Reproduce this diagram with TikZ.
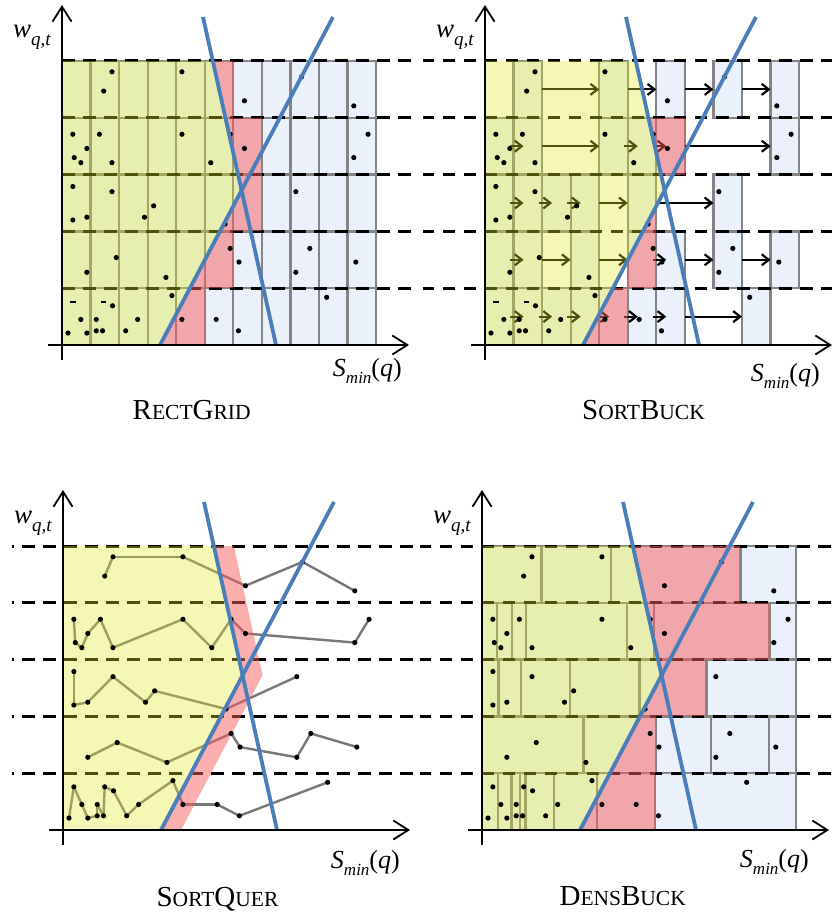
\documentclass[tikz,border=0pt]{standalone}
\usepackage{fontspec}
\setmainfont{Liberation Serif}
\usetikzlibrary{arrows.meta, calc}

\definecolor{cellblue}{RGB}{234,241,250}
\definecolor{cellgray}{RGB}{132,132,132}
\definecolor{veilyel}{RGB}{225,235,40}
\definecolor{veilred}{RGB}{246,93,92}
\definecolor{cutblue}{RGB}{74,126,187}
\definecolor{trailgray}{RGB}{120,120,120}

\newcommand{\smc}[1]{{\fontsize{21.5}{24}\selectfont #1}}
% points of the five rows (top to bottom), sorted by S_min
\newcommand{\rowA}{1.46/4.47, 1.75/4.81, 4.20/4.81, 6.39/4.30, 8.39/4.72, 10.22/4.21}
\newcommand{\rowB}{0.38/3.71, 0.43/3.30, 0.66/3.21, 0.87/3.46, 1.31/3.71, 1.75/3.21, 4.20/3.71, 5.21/3.21, 5.89/3.71, 6.39/3.46, 10.22/3.30, 10.72/3.71}
\newcommand{\rowC}{0.38/2.79, 0.38/2.20, 0.87/2.25, 1.75/2.70, 2.89/2.25, 3.21/2.45, 5.71/2.13, 8.19/2.70}
\newcommand{\rowD}{0.87/1.28, 1.90/1.54, 3.64/1.19, 5.89/1.70, 6.20/1.46, 8.19/1.28, 8.68/1.70, 10.29/1.46}
\newcommand{\rowE}{0.21/0.21, 0.38/0.76, 0.66/0.45, 0.87/0.21, 1.20/0.25, 1.20/0.45, 1.42/0.25, 1.46/0.76, 1.77/0.69, 2.23/0.25, 2.65/0.45, 3.85/0.87, 4.20/0.45, 5.40/0.45, 6.18/0.25, 9.27/0.84}
\newcommand{\rowEdots}{0.21/0.21, 0.66/0.45, 0.87/0.21, 1.20/0.25, 1.20/0.45, 1.42/0.25, 1.77/0.69, 2.23/0.25, 2.65/0.45, 3.85/0.87, 4.20/0.45, 5.40/0.45, 6.18/0.25, 9.27/0.84}
\newcommand{\rowEdash}{0.38/0.76, 1.46/0.76}

\tikzset{
  cell/.style     ={fill=cellblue, draw=cellgray, line width=2.3pt},
  rowsep/.style   ={line width=3pt, dash pattern=on 12.5pt off 8.5pt},
  hop/.style      ={-{Straight Barb[length=7pt,width=11pt]}, line width=2.2pt},
  trail/.style    ={draw=trailgray, line width=2.4pt, line cap=round},
  yelveil/.style  ={fill=veilyel, fill opacity=0.35},
  redveil/.style  ={fill=veilred, fill opacity=0.5},
  cutline/.style  ={draw=cutblue, line width=3.8pt},
  axisarrow/.style={-{Straight Barb[length=15pt,width=19pt]}, line width=1.8pt},
  capt/.style     ={font=\fontsize{29}{32}\selectfont, anchor=base, inner sep=0pt},
  lbl/.style      ={inner sep=0pt},
}

\newcommand{\cutcoords}{%
  \coordinate (At) at (4.939,5.775);
  \coordinate (Ab) at (7.496,0);
  \coordinate (Bb) at (3.433,0);
  \coordinate (Bt) at (9.492,5.775);
  \coordinate (X)  at (intersection of At--Ab and Bb--Bt);
  \coordinate (Ac) at (intersection of At--Ab and 0,5--1,5);
}
\newcommand{\cuts}{\draw[cutline] (At) -- (Ab); \draw[cutline] (Bb) -- (Bt);}
\newcommand{\rowlines}[2]{\foreach \r in {1,...,5} \draw[rowsep, dash phase=#2] (#1,\r) -- (12.3,\r);}
\newcommand{\putdots}[1]{\foreach \x/\y in #1 {\fill (\x,\y) circle (2.6pt);}}
\newcommand{\putdash}[1]{\foreach \x/\y in #1 {\fill ([xshift=-2.8pt,yshift=-1pt]\x,\y) rectangle ++(5.6pt,2pt);}}
\newcommand{\trail}[1]{\foreach \x/\y [count=\k, remember=\x as \lx, remember=\y as \ly] in #1 {\ifnum\k>1 \draw[trail] (\lx,\ly) -- (\x,\y);\fi}}
\newcommand{\panelaxes}[5]{%
  \draw[axisarrow] (0pt,-15pt) -- (0pt,340pt);
  \draw[axisarrow] (-14pt,0pt) -- (347pt,0pt);
  \node[lbl, anchor=base west] (wlbl) at (-49pt,307pt)
    {\fontsize{27}{30}\selectfont\itshape w\raisebox{-8pt}{\fontsize{19}{20}\selectfont q,t}};
  \node[lbl, anchor=base east] (slbl) at (#1pt,#2pt)
    {\fontsize{26}{28}\selectfont\itshape S\raisebox{-7pt}{\fontsize{17}{18}\selectfont min}\upshape(\itshape q\upshape)};
  \node[capt] (capt) at (#3pt,#4pt) {#5};
}

\begin{document}
\begin{tikzpicture}[x=1pt, y=1pt]
  \useasboundingbox (0,-915) rectangle (832,0);

  % --- RectGrid ---
  \begin{scope}[shift={(62pt,-345pt)}, x=28.55pt, y=56.8pt]
    \cutcoords
    \foreach \i in {0,...,10} \foreach \j in {0,...,4} \draw[cell] (\i,\j) rectangle ++(1,1);
    \rowlines{0}{0pt}
    \begin{scope}
      \clip (Ac) -- (X) -- (Bb) -- (13,0) -- (13,5) -- cycle;
      \foreach \y/\b in {4/6, 3/7, 2/7, 1/6, 0/5} \fill[redveil] (0,\y) rectangle (\b,\y+1);
    \end{scope}
    \fill[yelveil] (0,0) -- (0,5) -- (Ac) -- (X) -- (Bb) -- cycle;
    \putdots{\rowA}\putdots{\rowB}\putdots{\rowC}\putdots{\rowD}\putdots{\rowEdots}
    \putdash{\rowEdash}
    \cuts
    \panelaxes{340}{-31}{129.7}{-74.3}{R\smc{ECT}G\smc{RID}}
  \end{scope}

  % --- SortBuck ---
  \begin{scope}[shift={(485pt,-345pt)}, x=28.55pt, y=56.8pt]
    \cutcoords
    \foreach \y/\ks in {4/{1,4,6,8,10}, 3/{0,1,4,5,6,10}, 2/{0,1,2,3,5,8}, 1/{0,1,3,5,6,8,10}, 0/{0,1,2,3,4,5,6,9}}
      \foreach \i in \ks \draw[cell] (\i,\y) rectangle ++(1,1);
    % jumps over empty buckets
    \foreach \a/\b/\y in {2/4/4.5, 5/6/4.5, 7/8/4.5, 9/10/4.5, 2/4/3.5, 7/10/3.5, 4/5/2.5, 6/8/2.5,
                          2/3/1.5, 4/5/1.5, 7/8/1.5, 9/10/1.5, 7/9/0.5}
      \draw[hop] (\a,\y) -- (\b,\y);
    % neighbour buckets
    \foreach \b/\y in {1/3.5, 5/3.5, 6/3.5, 1/2.5, 2/2.5, 3/2.5, 1/1.5, 6/1.5,
                       1/0.5, 2/0.5, 3/0.5, 4/0.5, 5/0.5, 6/0.5}
      \draw[hop] (\b-0.12,\y) -- (\b+0.35,\y);
    \rowlines{-2.172}{1pt}
    \begin{scope}
      \clip (Ac) -- (X) -- (Bb) -- (13,0) -- (13,5) -- cycle;
      \foreach \y/\a/\b in {3/5/7, 2/5/6, 1/5/6, 0/3/5} \fill[redveil] (\a,\y) rectangle (\b,\y+1);
    \end{scope}
    \fill[yelveil] (0,0) -- (0,5) -- (Ac) -- (X) -- (Bb) -- cycle;
    \putdots{\rowA}\putdots{\rowB}\putdots{\rowC}\putdots{\rowD}\putdots{\rowEdots}
    \putdash{\rowEdash}
    \cuts
    \panelaxes{335}{-36}{158.5}{-74.3}{S\smc{ORT}B\smc{UCK}}
  \end{scope}

  % --- SortQuer ---
  \begin{scope}[shift={(63pt,-830pt)}, x=28.55pt, y=56.8pt]
    \cutcoords
    \trail{\rowA}\trail{\rowB}\trail{\rowC}\trail{\rowD}\trail{\rowE}
    \rowlines{-1.786}{11pt}
    \fill[redveil] (Ac) -- ($(Ac)+(0.7,0)$) -- ($(X)+(0.7,0)$) -- ($(Bb)+(0.7,0)$) -- (Bb) -- (X) -- cycle;
    \fill[yelveil] (0,0) -- (0,5) -- (Ac) -- (X) -- (Bb) -- cycle;
    \putdots{\rowA}\putdots{\rowB}\putdots{\rowC}\putdots{\rowD}\putdots{\rowE}
    \cuts
    \panelaxes{337}{-38}{154.5}{-76.7}{S\smc{ORT}Q\smc{UER}}
  \end{scope}

  % --- DensBuck ---
  \begin{scope}[shift={(482pt,-830pt)}, x=28.55pt, y=56.8pt]
    \cutcoords
    \foreach \y/\bnd in {4/{2.08,4.53,9.05,11}, 3/{0.52,1.05,1.54,5.08,6.03,10.07,11},
                         2/{0.58,1.36,3.07,5.52,7.86,11}, 1/{3.56,6.10,8.02,10.04,11},
                         0/{0.55,1.03,1.32,1.52,2.51,4.03,6.07,11}}
      \foreach \x [remember=\x as \lx (initially 0)] in \bnd \draw[cell] (\lx,\y) rectangle (\x,\y+1);
    \rowlines{-2.172}{1pt}
    \begin{scope}
      \clip (Ac) -- (X) -- (Bb) -- (13,0) -- (13,5) -- cycle;
      \foreach \y/\b in {4/9.05, 3/10.07, 2/7.86, 1/6.10, 0/6.07} \fill[redveil] (0,\y) rectangle (\b,\y+1);
    \end{scope}
    \fill[yelveil] (0,0) -- (0,5) -- (Ac) -- (X) -- (Bb) -- cycle;
    \putdots{\rowA}\putdots{\rowB}\putdots{\rowC}\putdots{\rowD}\putdots{\rowE}
    \cuts
    \panelaxes{327}{-37}{140.7}{-75}{D\smc{ENS}B\smc{UCK}}
  \end{scope}
\end{tikzpicture}
\end{document}
